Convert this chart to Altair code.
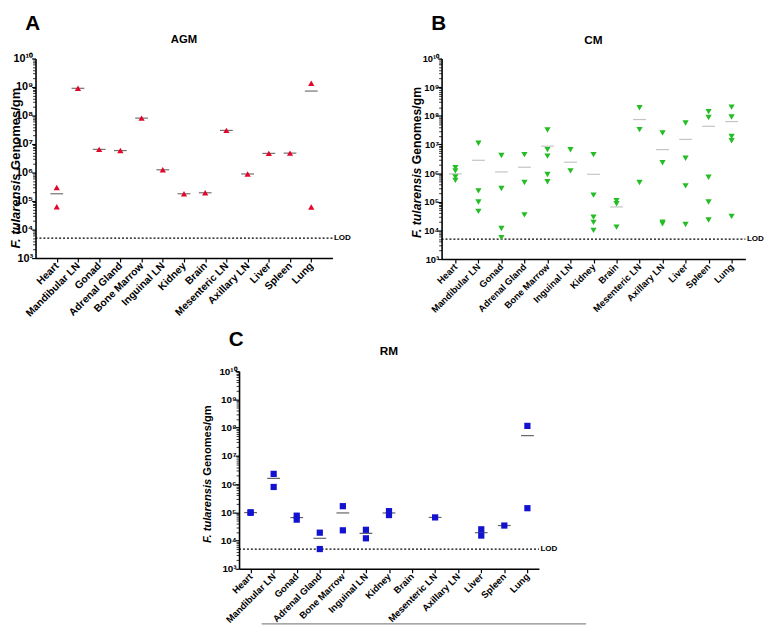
import altair as alt
import pandas as pd

organs = ["Heart", "Mandibular LN", "Gonad", "Adrenal Gland", "Bone Marrow",
          "Inguinal LN", "Kidney", "Brain", "Mesenteric LN", "Axillary LN",
          "Liver", "Spleen", "Lung"]

# AGM (red, triangle up)
agm_values = [[3.0e5, 6.3e4], [9.0e8], [6.5e6], [5.9e6], [8.1e7], [1.25e6],
              [1.8e5], [1.95e5], [3.0e7], [8.9e5], [4.7e6], [4.8e6], [1.35e9, 6.2e4]]
agm_means = [1.8e5, 9.0e8, 6.5e6, 5.9e6, 8.1e7, 1.25e6, 1.8e5, 1.95e5, 3.0e7,
             8.9e5, 4.7e6, 4.8e6, 7.2e8]

# CM (green, triangle down)
cm_values = [[1.55e6, 1.2e6, 7.4e5, 5.6e5],
             [1.1e7, 2.4e5, 9.8e4, 4.6e4],
             [4.1e6, 2.9e5, 1.17e4, 5.6e3],
             [4.4e6, 4.7e5, 3.5e4],
             [3.2e7, 6.6e6, 3.9e6, 8.9e5, 5.0e5],
             [6.5e6, 1.2e6],
             [4.4e6, 1.7e5, 2.9e4, 1.9e4, 1.0e4],
             [1.1e5, 8.5e4, 1.3e4],
             [1.9e8, 3.3e7, 4.7e5],
             [2.5e7, 2.3e6, 1.95e4, 1.7e4],
             [5.6e7, 3.3e6, 3.6e5, 1.6e4],
             [1.4e8, 8.7e7, 7.2e5, 9.8e4, 2.3e4],
             [2.0e8, 9.1e7, 1.9e7, 1.35e7, 3.1e4]]
cm_means = [9.4e5, 2.8e6, 1.1e6, 1.6e6, 8.7e6, 2.4e6, 9.1e5, 6.6e4, 7.4e7,
            6.6e6, 1.5e7, 4.3e7, 6.3e7]

# RM (blue, square)
rm_values = [[9.6e4, 1.0e5], [2.3e6, 7.9e5], [7.6e4, 5.5e4], [1.9e4, 5.0e3],
             [1.65e5, 2.3e4], [2.4e4, 1.2e4], [1.1e5, 8.0e4], [], [6.6e4], [],
             [2.5e4, 1.5e4], [3.4e4], [1.15e8, 1.4e5]]
rm_means = [9.8e4, 1.6e6, 6.5e4, 1.2e4, 9.5e4, 1.8e4, 9.5e4, None, 6.6e4, None,
            1.9e4, 3.4e4, 5.2e7]

LOD = 5e3
major_ticks = [1e3, 1e4, 1e5, 1e6, 1e7, 1e8, 1e9, 1e10]
minor_ticks = [k * 10.0 ** e for e in range(3, 10) for k in range(2, 10)]

FONT = "Liberation Sans"
SUP = "['⁰','¹','²','³','⁴','⁵','⁶','⁷','⁸','⁹','¹⁰']"


def panel(letter, name, values, means, color, shape, size, mean_color,
          width, height, pad, title_x, title_size, title_y, letter_y,
          tick_fs, cat_fs, name_fs, name_y, extra_line=False):
    pts = pd.DataFrame([{"organ": o, "value": v}
                        for o, vs in zip(organs, values) for v in vs])
    mn = pd.DataFrame([{"organ": o, "mean": m}
                       for o, m in zip(organs, means) if m is not None])
    one = pd.DataFrame({"v": [LOD]})

    yscale = alt.Scale(type="log", domain=[1e3, 1e10], nice=False)
    xscale = alt.Scale(type="point", domain=organs, padding=pad)
    xaxis = alt.Axis(title=None, labelAngle=-45, labelAlign="right",
                     labelBaseline="middle", labelFont=FONT, labelFontSize=cat_fs,
                     labelFontWeight="bold", labelColor="black", labelPadding=2,
                     tickSize=4, tickColor="black", tickWidth=1.2,
                     domainColor="black", domainWidth=1.6, grid=False)
    major = alt.Axis(title=None, values=major_ticks,
                     labelExpr="'10' + " + SUP + "[round(log(datum.value)/LN10)]",
                     labelFont=FONT, labelFontSize=tick_fs, labelFontWeight="bold",
                     labelColor="black", tickSize=4, tickColor="black",
                     tickWidth=1.2, domainColor="black", domainWidth=1.6,
                     grid=False, orient="left", labelPadding=-1)
    minor = alt.Axis(title=None, values=minor_ticks, labels=False, domain=False,
                     tickSize=3, tickColor="black", tickWidth=0.8, grid=False,
                     orient="left")

    points = alt.Chart(pts).mark_point(
        shape=shape, filled=True, color=color, size=size, opacity=1
    ).encode(x=alt.X("organ:N", scale=xscale, axis=xaxis, sort=organs),
             y=alt.Y("value:Q", scale=yscale, axis=major))
    meanl = alt.Chart(mn).mark_tick(
        color=mean_color, size=13, thickness=1.2
    ).encode(x=alt.X("organ:N", scale=xscale, axis=xaxis, sort=organs),
             y=alt.Y("mean:Q", scale=yscale, axis=None))
    minor_l = alt.Chart(one).mark_point(opacity=0).encode(
        y=alt.Y("v:Q", scale=yscale, axis=minor))
    lod_rule = alt.Chart(one).mark_rule(
        color="black", strokeDash=[2, 2], strokeWidth=1.3
    ).encode(y=alt.Y("v:Q", scale=yscale, axis=None),
             x=alt.value(0), x2=alt.value(width))
    lod_text = alt.Chart(one).mark_text(
        text="LOD", align="left", baseline="middle", font=FONT, fontSize=8.2,
        fontWeight="bold", color="black", dx=1.5
    ).encode(y=alt.Y("v:Q", scale=yscale, axis=None), x=alt.value(width))
    ttl = alt.Chart(one).mark_text(
        text=name, align="center", baseline="middle", font=FONT, fontSize=name_fs,
        fontWeight="bold", color="black"
    ).encode(x=alt.value(width / 2), y=alt.value(name_y))
    let = alt.Chart(one).mark_text(
        text=letter, align="center", baseline="top", font=FONT,
        fontSize=21, fontWeight="bold", color="black"
    ).encode(x=alt.value(-3), y=alt.value(letter_y))
    yt1 = alt.Chart(one).mark_text(
        text="F. tularensis", angle=270, align="right", baseline="middle",
        font=FONT, fontSize=title_size, fontWeight="bold", fontStyle="italic",
        color="black"
    ).encode(x=alt.value(title_x), y=alt.value(title_y))
    yt2 = alt.Chart(one).mark_text(
        text="Genomes/gm", angle=270, align="left", baseline="middle",
        font=FONT, fontSize=title_size, fontWeight="bold", color="black"
    ).encode(x=alt.value(title_x), y=alt.value(title_y - 0.28 * title_size))
    layers = [minor_l, lod_rule, meanl, points, lod_text, ttl, let, yt1, yt2]
    if extra_line:
        layers.append(alt.Chart(one).mark_rule(color="#8a8a8a", strokeWidth=1.2).encode(
            x=alt.value(23), x2=alt.value(353), y=alt.value(height + 56)))
    return alt.layer(*layers).resolve_axis(y="independent").properties(
        width=width, height=height)


A = panel("A", "AGM", agm_values, agm_means, "#e2062b", "triangle-up", 40,
          "#333333", 302, 203, 1.0, -20, 13.2, 117, -46,
          11, 10.5, 11.5, -18.4)
B = panel("B", "CM", cm_values, cm_means, "#25bd25", "triangle-down", 40,
          "#aaaaaa", 309, 204, 0.6, -25, 12.4, 111, -46,
          9.5, 9.5, 12, -19.2)
C = panel("C", "RM", rm_values, rm_means, "#1212d0", "square", 40,
          "#222222", 305, 201, 0.5, -31.5, 11.3, 109.5, -43,
          10, 9.6, 12, -20.2, extra_line=True)

spacer = alt.Chart(pd.DataFrame({"v": [0]})).mark_rule(opacity=0).encode(
    x=alt.value(0), x2=alt.value(149), y=alt.value(0)).properties(width=149, height=10)

chart = alt.vconcat(
    alt.hconcat(A, B, spacing=111, bounds="flush"),
    alt.hconcat(spacer, C, spacing=20),
    spacing=10,
).properties(
    padding={"left": 0, "top": 0, "right": 5, "bottom": 5}
).configure_view(stroke=None).configure_axis(grid=False)

chart.save("out.html", embed_options={"renderer": "svg", "actions": False})
